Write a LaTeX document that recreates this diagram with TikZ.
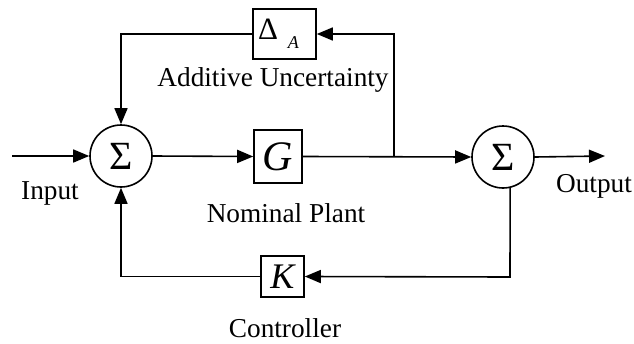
\documentclass[tikz,border=0pt]{standalone}
\usepackage{fontspec}
\setmainfont{Liberation Serif}
\usetikzlibrary{arrows.meta}
\begin{document}
\begin{tikzpicture}[x=1pt,y=-1pt,
  line width=1.6pt,
  arr/.style={-{Triangle[length=16pt,width=13pt]}},
  sumnode/.style={draw,circle,minimum size=62pt,inner sep=0pt,font=\fontsize{40}{40}\selectfont},
  blk/.style={draw,inner sep=0pt},
  lbl/.style={font=\fontsize{27.3}{30}\selectfont,inner sep=0pt}]
\useasboundingbox (0,0) rectangle (634,343);
\node[sumnode] (s1) at (121,156) {Σ};
\node[sumnode] (s2) at (503,157) {Σ};
\node[blk,minimum width=48pt,minimum height=53pt,font=\fontsize{42}{42}\selectfont\itshape] (g) at (278,156.5) {G};
\node[blk,minimum width=63pt,minimum height=50pt] (d) at (284.5,34) {\fontsize{31}{31}\selectfont\hspace{-12pt}Δ\hspace{10pt}\raisebox{-9pt}{\fontsize{18}{18}\selectfont\itshape A}};
\node[blk,minimum width=43pt,minimum height=41pt,font=\fontsize{36}{36}\selectfont\itshape] (k) at (282.5,276.5) {K};
\coordinate (in) at (12,156);
\coordinate (out) at (605,156);
\coordinate (j) at (394,156);
\coordinate (br) at (510,277);
\node[lbl] at (50,193) {Input};
\node[lbl] at (594,186) {Output};
\node[lbl] at (286,213) {Nominal Plant};
\node[lbl] at (285,328) {Controller};
\node[lbl] at (273,80) {Additive Uncertainty};
\draw[arr] (in) -- (s1.west);
\draw[arr] (s1.east) -- (g.west);
\draw[arr] (g.east) -- (s2.west);
\draw[arr] (j) |- (d.east);
\draw[arr] (d.west) -| (s1.north);
\draw[arr] (s2.east) -- (out);
\draw[arr] (s2.-77) -- (br) -- (k.east);
\draw[arr] (k.west) -| (s1.south);
\end{tikzpicture}
\end{document}
